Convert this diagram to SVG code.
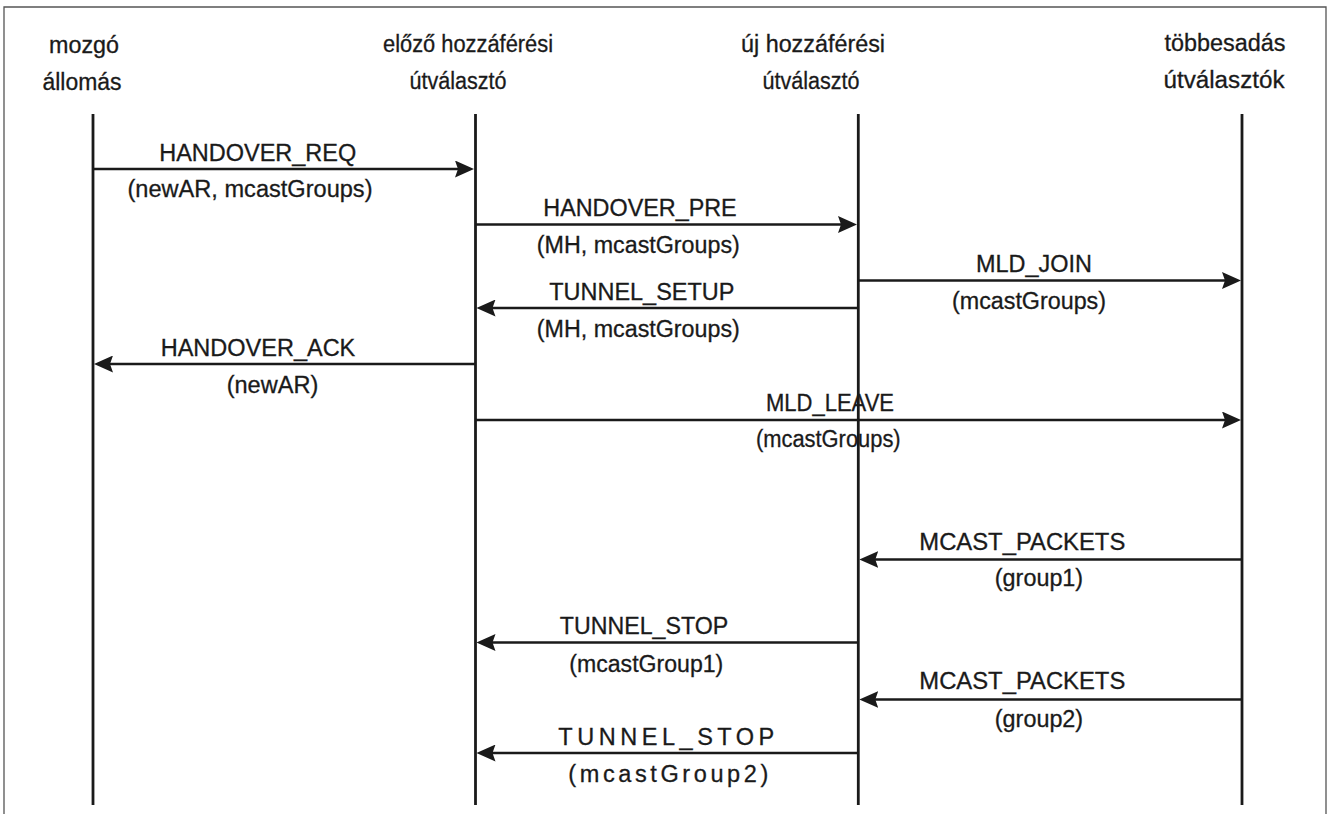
<svg xmlns="http://www.w3.org/2000/svg" width="1329" height="814" viewBox="0 0 1329 814">
<defs>
<style>
text { font-family: "Liberation Sans", Arial, sans-serif; font-size: 23.5px; fill: #1a1a1a; stroke: #1a1a1a; stroke-width: 0.3; text-anchor: middle; }
.life { stroke: #1a1a1a; stroke-width: 2.8; fill: none; }
.msg { stroke: #1a1a1a; stroke-width: 2.5; fill: none; marker-end: url(#ah); }
.frame { stroke: #555; stroke-width: 1.3; fill: none; }
</style>
<marker id="ah" markerUnits="userSpaceOnUse" viewBox="0 0 19 17" markerWidth="19" markerHeight="17" refX="11" refY="8.5" orient="auto">
<path d="M0,0 L19,8.5 L0,17 L3,8.5 Z" fill="#1a1a1a"/>
</marker>
</defs>
<rect width="1329" height="814" fill="#fff"/>
<path class="frame" d="M4,814 L4,7 L1326,7 L1326,814"/>

<g id="node-mozgo">
<text x="84" y="53" textLength="70" lengthAdjust="spacingAndGlyphs">mozgó</text>
<text x="82" y="90" textLength="79" lengthAdjust="spacingAndGlyphs">állomás</text>
<line class="life" x1="93" y1="114" x2="93" y2="805"/>
</g>
<g id="node-elozo">
<text x="468" y="52" textLength="170" lengthAdjust="spacingAndGlyphs">előző hozzáférési</text>
<text x="458" y="89" textLength="97" lengthAdjust="spacingAndGlyphs">útválasztó</text>
<line class="life" x1="475.5" y1="114" x2="475.5" y2="805"/>
</g>
<g id="node-uj">
<text x="813" y="52" textLength="144" lengthAdjust="spacingAndGlyphs">új hozzáférési</text>
<text x="811" y="89" textLength="97" lengthAdjust="spacingAndGlyphs">útválasztó</text>
<line class="life" x1="858.3" y1="114" x2="858.3" y2="805"/>
</g>
<g id="node-tobbes">
<text x="1225" y="51" textLength="121" lengthAdjust="spacingAndGlyphs">többesadás</text>
<text x="1224" y="88" textLength="121" lengthAdjust="spacingAndGlyphs">útválasztók</text>
<line class="life" x1="1242" y1="114" x2="1242" y2="805"/>
</g>

<g id="connectors">
<line class="msg" x1="93" y1="169" x2="466" y2="169"/>
<text x="257.7" y="161" textLength="197" lengthAdjust="spacingAndGlyphs">HANDOVER_REQ</text>
<text x="250" y="197" textLength="245" lengthAdjust="spacingAndGlyphs">(newAR, mcastGroups)</text>

<line class="msg" x1="475.5" y1="224.5" x2="849" y2="224.5"/>
<text x="640" y="216" textLength="193.4" lengthAdjust="spacingAndGlyphs">HANDOVER_PRE</text>
<text x="638.3" y="253" textLength="203" lengthAdjust="spacingAndGlyphs">(MH, mcastGroups)</text>

<line class="msg" x1="858.3" y1="280.5" x2="1233" y2="280.5"/>
<text x="1034" y="272" textLength="116" lengthAdjust="spacingAndGlyphs">MLD_JOIN</text>
<text x="1029" y="309" textLength="154" lengthAdjust="spacingAndGlyphs">(mcastGroups)</text>

<line class="msg" x1="858.3" y1="308" x2="484.5" y2="308"/>
<text x="641.8" y="299.5" textLength="185" lengthAdjust="spacingAndGlyphs">TUNNEL_SETUP</text>
<text x="638.3" y="336.5" textLength="203" lengthAdjust="spacingAndGlyphs">(MH, mcastGroups)</text>

<line class="msg" x1="475.5" y1="364" x2="102" y2="364"/>
<text x="258" y="355.5" textLength="194.6" lengthAdjust="spacingAndGlyphs">HANDOVER_ACK</text>
<text x="272.5" y="392.5" textLength="91.6" lengthAdjust="spacingAndGlyphs">(newAR)</text>

<line class="msg" x1="475.5" y1="420" x2="1233" y2="420"/>
<text x="830" y="411" textLength="128" lengthAdjust="spacingAndGlyphs">MLD_LEAVE</text>
<text x="828.3" y="447" textLength="144.7" lengthAdjust="spacingAndGlyphs">(mcastGroups)</text>

<line class="msg" x1="1242" y1="559.5" x2="867.3" y2="559.5"/>
<text x="1022.3" y="550" textLength="206" lengthAdjust="spacingAndGlyphs">MCAST_PACKETS</text>
<text x="1039" y="586" textLength="88.3" lengthAdjust="spacingAndGlyphs">(group1)</text>

<line class="msg" x1="858.3" y1="642.5" x2="484.5" y2="642.5"/>
<text x="644" y="633.5" textLength="168.3" lengthAdjust="spacingAndGlyphs">TUNNEL_STOP</text>
<text x="646.3" y="672" textLength="154" lengthAdjust="spacingAndGlyphs">(mcastGroup1)</text>

<line class="msg" x1="1242" y1="699.5" x2="867.3" y2="699.5"/>
<text x="1022.3" y="689" textLength="206" lengthAdjust="spacingAndGlyphs">MCAST_PACKETS</text>
<text x="1039" y="727" textLength="88.3" lengthAdjust="spacingAndGlyphs">(group2)</text>

<line class="msg" x1="858.3" y1="753" x2="484.5" y2="753"/>
<text x="666.3" y="745" textLength="216" lengthAdjust="spacing">TUNNEL_STOP</text>
<text x="668.3" y="782" textLength="200" lengthAdjust="spacing">(mcastGroup2)</text>
</g>
</svg>
